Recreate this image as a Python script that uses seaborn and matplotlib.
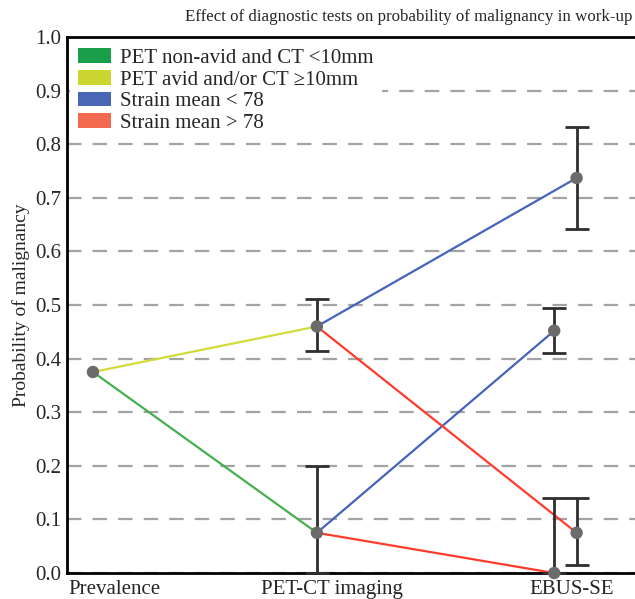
import matplotlib
matplotlib.use("Agg")
import matplotlib.pyplot as plt
from matplotlib.patches import Patch
import seaborn as sns
import pandas as pd

sns.set_theme(style="white")
plt.rcParams["font.family"] = ["Liberation Serif", "DejaVu Serif"]
plt.rcParams["axes.unicode_minus"] = False

# Stages along the work-up and where their labels sit
stage_labels = ["Prevalence", "PET-CT imaging", "EBUS-SE"]
stage_label_pos = [0.094, 1.067, 2.138]

# x positions of estimates (EBUS-SE estimates are dodged side by side)
x_prev, x_pet, x_ebus_a, x_ebus_b = 0.0, 1.0, 2.06, 2.16

# Point estimates with their interval bounds
prevalence = 0.375
pet_low, pet_low_ci = 0.075, (0.0, 0.2)
pet_high, pet_high_ci = 0.46, (0.415, 0.512)
ebus_blue_high, ebus_blue_high_ci = 0.737, (0.641, 0.832)
ebus_blue_low, ebus_blue_low_ci = 0.452, (0.41, 0.495)
ebus_red_zero, ebus_red_zero_ci = 0.0, (0.0, 0.14)
ebus_red_low, ebus_red_low_ci = 0.075, (0.014, 0.14)

series_names = ["PET non-avid and CT <10mm", "PET avid and/or CT \u226510mm",
                "Strain mean < 78", "Strain mean > 78"]
legend_colors = ["#1a9e4a", "#cbd630", "#4a67b5", "#f26a50"]
line_colors = ["#45b04e", "#d2db3a", "#4563bd", "#ff3b2b"]

# Line segments: (series, segment id, x, y)
segments = [
    (series_names[0], "g1", x_prev, prevalence), (series_names[0], "g1", x_pet, pet_low),
    (series_names[1], "y1", x_prev, prevalence), (series_names[1], "y1", x_pet, pet_high),
    (series_names[2], "b1", x_pet, pet_high), (series_names[2], "b1", x_ebus_b, ebus_blue_high),
    (series_names[2], "b2", x_pet, pet_low), (series_names[2], "b2", x_ebus_a, ebus_blue_low),
    (series_names[3], "r1", x_pet, pet_high), (series_names[3], "r1", x_ebus_b, ebus_red_low),
    (series_names[3], "r2", x_pet, pet_low), (series_names[3], "r2", x_ebus_a, ebus_red_zero),
]
seg_df = pd.DataFrame(segments, columns=["series", "seg", "x", "y"])

points = [
    (x_prev, prevalence, prevalence, prevalence),
    (x_pet, pet_low, *pet_low_ci),
    (x_pet, pet_high, *pet_high_ci),
    (x_ebus_b, ebus_blue_high, *ebus_blue_high_ci),
    (x_ebus_a, ebus_blue_low, *ebus_blue_low_ci),
    (x_ebus_a, ebus_red_zero, *ebus_red_zero_ci),
    (x_ebus_b, ebus_red_low, *ebus_red_low_ci),
]
pt_df = pd.DataFrame(points, columns=["x", "y", "lo", "hi"])

fig = plt.figure(figsize=(6.35, 5.99), dpi=100)
ax = fig.add_axes([67 / 635, 26 / 599, 682 / 635, 536 / 599])

sns.lineplot(data=seg_df, x="x", y="y", hue="series", units="seg", estimator=None,
             palette=dict(zip(series_names, line_colors)), linewidth=1.6,
             legend=False, ax=ax, zorder=3)

err = pt_df[pt_df["hi"] > pt_df["lo"]]
ax.errorbar(err["x"], err["y"], yerr=[err["y"] - err["lo"], err["hi"] - err["y"]],
            fmt="none", ecolor="#2e2e2e", elinewidth=2.0, capsize=8.5, capthick=2.0,
            zorder=4, clip_on=False)
sns.scatterplot(data=pt_df, x="x", y="y", color="#6b6b6b", s=80, edgecolor="none",
                ax=ax, zorder=5, clip_on=False)

ax.set_xlim(-0.116, 2.93)
ax.set_ylim(0, 1.0)
ax.set_yticks([i / 10 for i in range(11)])
ax.set_yticklabels([f"{i / 10:.1f}" for i in range(11)], fontsize=15)
ax.set_xticks(stage_label_pos)
ax.set_xticklabels(stage_labels, fontsize=15)
ax.tick_params(axis="x", length=0, pad=5)
ax.tick_params(axis="y", length=3, color="#b0b0b0", pad=1)
ax.set_xlabel("")
ax.set_ylabel("Probability of malignancy", fontsize=14, labelpad=4)

ax.yaxis.grid(True, color="#a3a3a3", linewidth=1.6, linestyle=(0, (6.5, 5)))
ax.set_axisbelow(True)
for side in ["left", "bottom", "top"]:
    ax.spines[side].set_color("black")
    ax.spines[side].set_linewidth(2.0)
ax.spines["right"].set_visible(False)

fig.text(632 / 635, 1 - 17 / 599,
         "Effect of diagnostic tests on probability of malignancy in work-up",
         fontsize=12.2, ha="right", va="center")

handles = [Patch(facecolor=c, edgecolor="none") for c in legend_colors]
leg = ax.legend(handles, series_names, loc="upper left", bbox_to_anchor=(0.0, 1.0),
                fontsize=15, frameon=True, fancybox=False, framealpha=1,
                handlelength=1.55, handleheight=0.7, handletextpad=0.45,
                labelspacing=0.1, borderpad=0.4, borderaxespad=0.15)
leg.get_frame().set_edgecolor("none")
leg.get_frame().set_facecolor("white")
leg.set_zorder(6)

fig.savefig("out.png", dpi=100)
